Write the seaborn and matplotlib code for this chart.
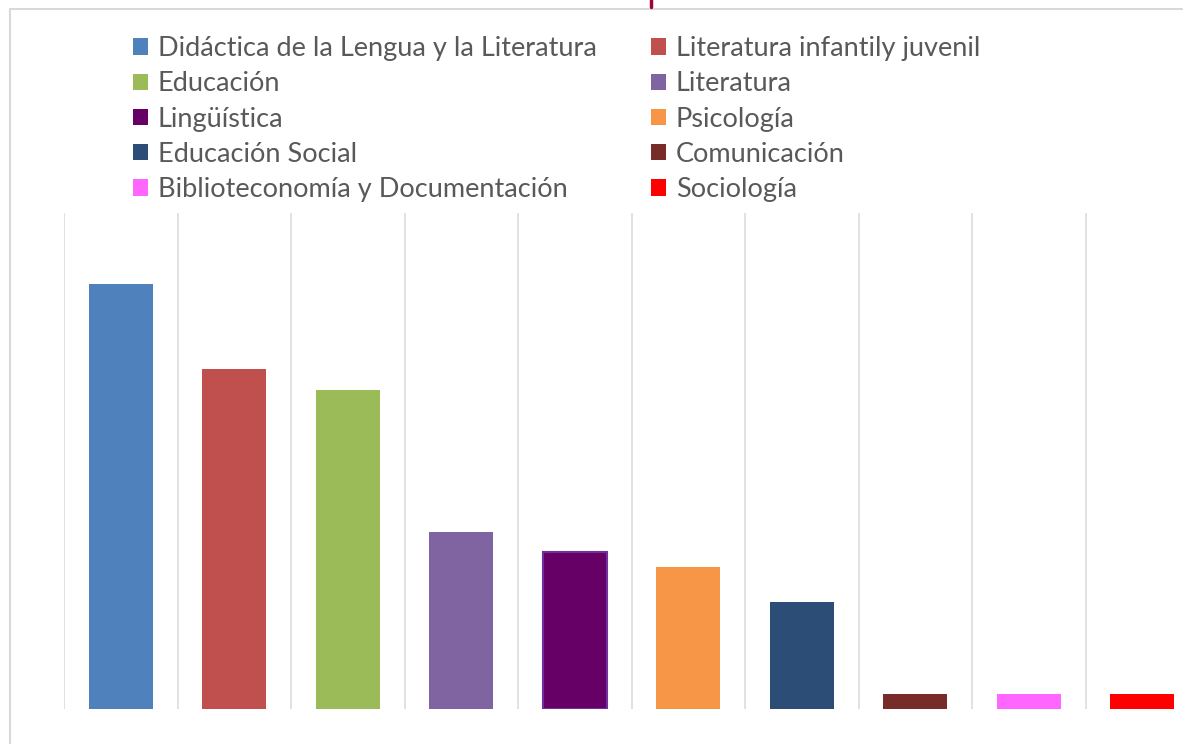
import matplotlib
matplotlib.use("Agg")
import matplotlib.pyplot as plt
import seaborn as sns
from matplotlib.patches import Patch
from matplotlib.lines import Line2D

categorias = ["Didáctica de la Lengua y la Literatura", "Literatura infantily juvenil",
              "Educación", "Literatura", "Lingüística", "Psicología",
              "Educación Social", "Comunicación", "Biblioteconomía y Documentación",
              "Sociología"]
valores = [57, 45.6, 42.8, 23.7, 21, 19, 14.3, 2, 2, 2]
colores = ["#4F81BD", "#C0504D", "#9BBB59", "#8064A2", "#660066", "#F79646",
           "#2C4D75", "#772C2A", "#FF66FF", "#FF0000"]

sns.set_style("white")
plt.rcParams['font.family'] = ['Lato', 'DejaVu Sans']

W, H = 1183, 744
fig = plt.figure(figsize=(W / 100, H / 100), dpi=100)
ax = fig.add_axes([64 / W, 35 / H, 1135 / W, (709 - 213) / H])

sns.barplot(x=categorias, y=valores, hue=categorias, palette=colores,
            width=0.56, legend=False, ax=ax, saturation=1)
for i, p in enumerate(ax.patches):
    p.set_linewidth(0)
    if categorias[i] == "Lingüística":
        p.set_edgecolor("#7030A0")
        p.set_linewidth(1.5)

ax.set_xlim(-0.5, len(categorias) - 0.5)
ax.set_ylim(0, 66.5)
for k in range(len(categorias)):
    ax.axvline(k - 0.5, color="#D9D9D9", lw=1.1, zorder=0)
ax.set_xticks([])
ax.set_yticks([])
ax.set_xlabel("")
ax.set_ylabel("")
sns.despine(ax=ax, left=True, bottom=True)

# legend in two columns, row-major order
handles = [Patch(facecolor=c, edgecolor="none") for c in colores]
for col, x0 in [(0, 133), (1, 651)]:
    idx = list(range(col, len(categorias), 2))
    fig.legend([handles[i] for i in idx], [categorias[i] for i in idx],
               loc="upper left", bbox_to_anchor=(x0 / W, 1 - 36 / H),
               frameon=False, fontsize=19.5, labelcolor="#595959",
               handlelength=0.55, handleheight=0.55, handletextpad=0.37,
               labelspacing=0.38, borderaxespad=0, borderpad=0)

# outer chart frame and small mark at the top
fig.add_artist(Line2D([10 / W, 10 / W], [0, 1 - 9 / H], color="#D9D9D9", lw=1.5))
fig.add_artist(Line2D([10 / W, 1], [1 - 9 / H, 1 - 9 / H], color="#D9D9D9", lw=1.5))
fig.add_artist(Line2D([651 / W, 651 / W], [1 - 7 / H, 1], color="#A50034", lw=2.5))

fig.savefig("out.png", dpi=100)
